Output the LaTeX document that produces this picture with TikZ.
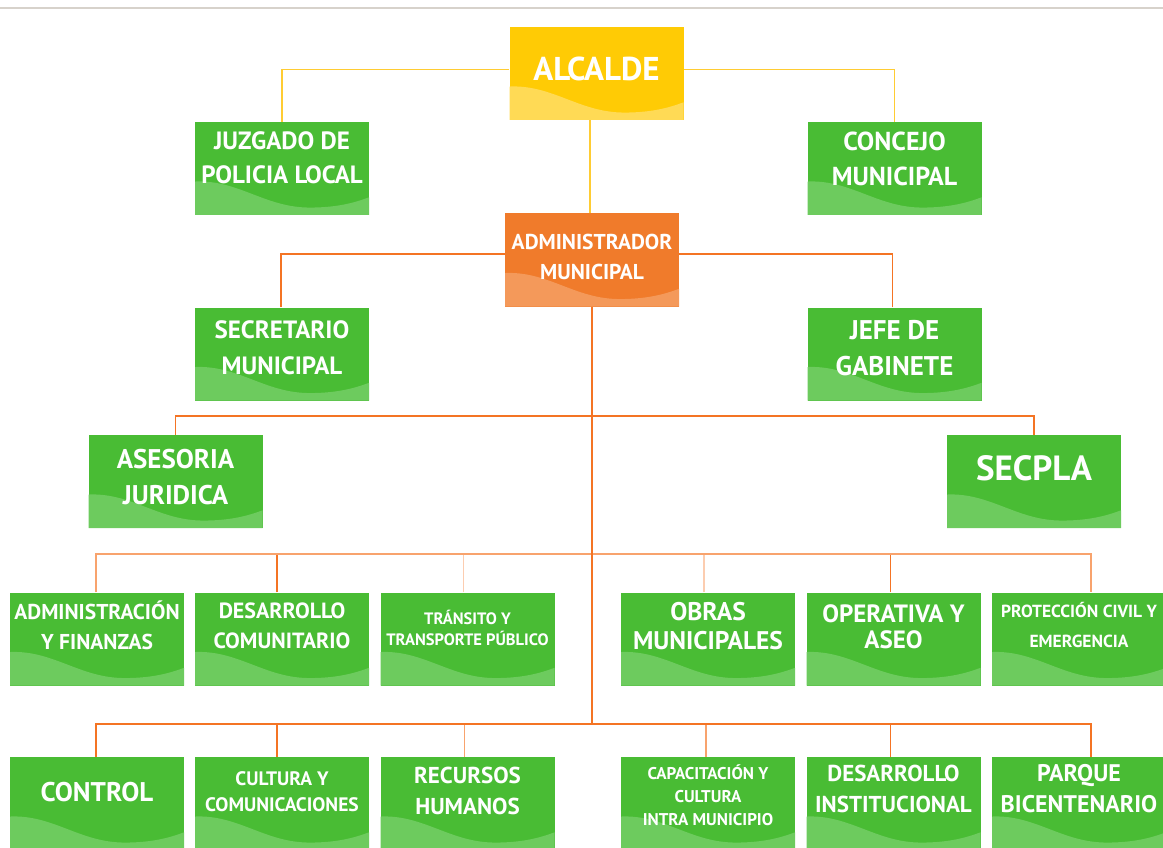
\documentclass[tikz,border=0pt]{standalone}
\usepackage{fontspec}
\newfontfamily\orgfont{PT Sans}
\usetikzlibrary{calc}

\definecolor{cgreen}{HTML}{49BC34}
\definecolor{cgreenl}{HTML}{6DCB5E}
\definecolor{cyellow}{HTML}{FFCB05}
\definecolor{cyellowl}{HTML}{FFDA55}
\definecolor{corange}{HTML}{F07B2B}
\definecolor{corangel}{HTML}{F4995A}
\definecolor{cline}{HTML}{F47424}
\definecolor{clinel}{HTML}{F8A36D}
\definecolor{clinep}{HTML}{FCCDB0}
\definecolor{cyline}{HTML}{FFCC33}
\definecolor{cgray}{HTML}{D7D2CB}

\begin{document}
\begin{tikzpicture}[x=1pt, y=-1pt,
    wave/.style={path picture={
      \fill[#1] let \p1=(path picture bounding box.south west),
                    \p2=(path picture bounding box.north east),
                    \n1={\x2-\x1}, \n2={\y2-\y1} in
        (\x1,\y1) -- (\x1,\y1+0.36*\n2)
        .. controls (\x1+0.25*\n1,\y1+0.38*\n2) and (\x1+0.40*\n1,\y1+0.08*\n2) .. (\x1+0.66*\n1,\y1+0.08*\n2)
        .. controls (\x1+0.84*\n1,\y1+0.08*\n2) and (\x1+0.94*\n1,\y1+0.15*\n2) .. (\x2,\y1+0.19*\n2)
        -- (\x2,\y1) -- cycle;}},
    unit/.style={rectangle, minimum width=174pt, minimum height=93pt, inner sep=0pt},
    gbox/.style={unit, fill=cgreen, wave=cgreenl},
    ybox/.style={unit, fill=cyellow, wave=cyellowl},
    obox/.style={unit, fill=corange, wave=corangel},
    fs/.style 2 args={font=\orgfont\bfseries\fontsize{#1}{#2}\selectfont},
    txt/.style={text=white, align=center, fs={25}{34}, yshift=12pt},
    yline/.style={draw=cyline, line width=1.6pt},
    oline/.style={draw=cline, line width=1.8pt},
    lline/.style={draw=clinel, line width=1.5pt},
    pline/.style={draw=clinep, line width=1.5pt}
]
\clip (0,0) rectangle (1163,848);
\draw[cgray, line width=2pt] (0,8) -- (1163,8);

% Top
\node[ybox, label={[txt, fs={33}{34}, yshift=-7pt]center:ALCALDE}] (alcalde) at (596.5,73.5) {};
\node[gbox, label={[txt, yshift=-1pt]center:{JUZGADO DE\\POLICIA LOCAL}}] (juzgado) at (282,168.5) {};
\node[gbox, label={[txt, fs={26}{35}, yshift=-2pt]center:{CONCEJO\\MUNICIPAL}}] (concejo) at (894.5,168.5) {};
\node[obox, label={[txt, fs={21.5}{30}, yshift=-9pt]center:{ADMINISTRADOR\\MUNICIPAL}}] (admin) at (592,260) {};
\node[gbox, label={[txt, fs={25}{36}, yshift=-6pt]center:{SECRETARIO\\MUNICIPAL}}] (secretario) at (282,354) {};
\node[gbox, label={[txt, fs={27}{36}, yshift=-6pt]center:{JEFE DE\\GABINETE}}] (jefe) at (894.5,354) {};
\node[gbox, label={[txt, fs={27}{36}, yshift=-8pt]center:{ASESORIA\\JURIDICA}}] (asesoria) at (175.5,481.5) {};
\node[gbox, label={[txt, fs={35}{36}, yshift=1pt]center:SECPLA}] (secpla) at (1034,481.5) {};

% Row 3
\node[gbox, label={[txt, fs={21.5}{30}, yshift=2pt]center:{ADMINISTRACIÓN\\Y FINANZAS}}] (adminfin) at (97,639) {};
\node[gbox, label={[txt, fs={22}{30}, yshift=1pt]center:{DESARROLLO\\COMUNITARIO}}] (desacom) at (282,639) {};
\node[gbox, label={[txt, fs={16.5}{21}, yshift=-1pt]center:{TRÁNSITO Y\\TRANSPORTE PÚBLICO}}] (transito) at (467.5,639) {};
\node[gbox, label={[txt, fs={25.5}{29}, yshift=1pt]center:{OBRAS\\MUNICIPALES}}] (obras) at (708,639) {};
\node[gbox, label={[txt, fs={25}{26}]center:{OPERATIVA Y\\ASEO}}] (operativa) at (893.5,639) {};
\node[gbox, label={[txt, fs={17.5}{30}, yshift=2pt]center:{PROTECCIÓN CIVIL Y\\EMERGENCIA}}] (proteccion) at (1079,639) {};

% Row 4
\node[gbox, label={[txt, fs={27}{30}, yshift=-1pt]center:CONTROL}] (control) at (97,803.5) {};
\node[gbox, label={[txt, fs={19.5}{26}]center:{CULTURA Y\\COMUNICACIONES}}] (cultura) at (282,803.5) {};
\node[gbox, label={[txt, fs={23}{31}, yshift=1pt]center:{RECURSOS\\HUMANOS}}] (recursos) at (467.5,803.5) {};
\node[gbox, label={[txt, fs={17}{23}, yshift=-4pt]center:{CAPACITACIÓN Y\\CULTURA\\INTRA MUNICIPIO}}] (capacitacion) at (708,803.5) {};
\node[gbox, label={[txt, fs={23}{31}, yshift=3pt]center:{DESARROLLO\\INSTITUCIONAL}}] (desainst) at (893.5,803.5) {};
\node[gbox, label={[txt, fs={24}{31}, yshift=3pt]center:{PARQUE\\BICENTENARIO}}] (parque) at (1079,803.5) {};

% Lines
\coordinate (bus2) at (592,416);
\coordinate (bus3) at (592,554);
\coordinate (bus4) at (592,724);

\draw[yline] (juzgado.north) |- ([yshift=4pt]alcalde.west);
\draw[yline] (concejo.north) |- ([yshift=4pt]alcalde.east);
\draw[yline] ([xshift=-2pt]admin.north) -- ([xshift=-2pt]admin.north |- alcalde.south);

\draw[oline] ([xshift=-1pt]secretario.north) |- ([yshift=6pt]admin.west);
\draw[oline] ([xshift=-2pt]jefe.north) |- ([yshift=6pt]admin.east);
\draw[oline] (asesoria.north) |- (bus2) -| (secpla.north);

\draw[oline] ([xshift=-5pt]desacom.north) |- (bus3);
\draw[pline] ([xshift=-4pt]transito.north) |- (bus3);
\draw[pline] ([xshift=-4pt]obras.north) |- (bus3);
\draw[oline] ([xshift=-3pt]operativa.north) |- (bus3);
\draw[lline] ([xshift=-1pt]adminfin.north) |- (bus3) -| ([xshift=12pt]proteccion.north);

\draw[oline] ([xshift=-5pt]cultura.north) |- (bus4);
\draw[lline] ([xshift=-3pt]recursos.north) |- (bus4);
\draw[lline] ([xshift=-2pt]capacitacion.north) |- (bus4);
\draw[oline] ([xshift=-3pt]desainst.north) |- (bus4);
\draw[oline] ([xshift=-1pt]control.north) |- (bus4) -| ([xshift=12pt]parque.north);

\draw[oline] (admin.south) -- (bus4);
\end{tikzpicture}
\end{document}
